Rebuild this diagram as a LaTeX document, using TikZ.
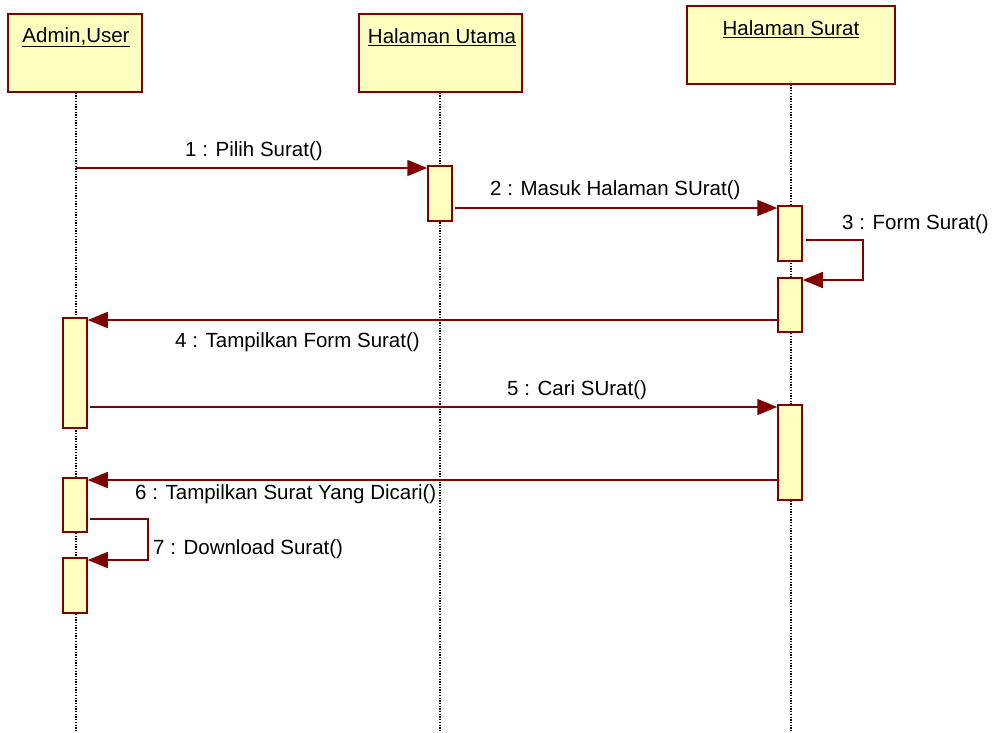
\documentclass[tikz,border=0pt]{standalone}
\usepackage{fontspec}
\setmainfont{Liberation Sans}
\usetikzlibrary{arrows.meta}
\definecolor{bord}{RGB}{128,0,0}
\definecolor{boxfill}{RGB}{255,255,192}
\begin{document}
\begin{tikzpicture}[x=1pt,y=-1pt,
  every node/.style={font=\fontsize{20.5}{24}\selectfont},
  objbox/.style 2 args={draw=bord,fill=boxfill,line width=1.5pt,minimum width=#1,minimum height=#2,inner sep=0pt},
  act/.style={draw=bord,fill=boxfill,line width=1.5pt,minimum width=24pt,minimum height=#1,inner sep=0pt},
  lifeline/.style={draw=black,line width=1.3pt,dash pattern=on 1.3pt off 1.4pt},
  msg/.style={draw=bord,line width=1.5pt,-{Triangle[length=20pt,width=16pt]},color=bord},
  title/.style={inner sep=0pt},
  lbl/.style={inner sep=0pt,anchor=west}]
\useasboundingbox (0,0) rectangle (1000,732);
% objects
\node[objbox={134pt}{78pt}] (admin) at (75,53) {};
\node[objbox={163pt}{78pt}] (utama) at (440.5,53) {};
\node[objbox={208pt}{78pt}] (surat) at (791,45) {};
\node[title] (tadmin) at (76,37) {\underline{Admin,User}};
\node[title] (tutama) at (442,37) {\underline{Halaman Utama}};
\node[title] (tsurat) at (791,29) {\underline{Halaman Surat}};
% lifeline ends
\coordinate (ladmin) at (76,732);
\coordinate (lutama) at (440,732);
\coordinate (lsurat) at (791,732);
\draw[lifeline] (admin.south -| ladmin) -- (ladmin);
\draw[lifeline] (utama.south -| lutama) -- (lutama);
\draw[lifeline] (surat.south -| lsurat) -- (lsurat);
% activations
\node[act=55pt] (hu1) at (440,193.5) {};
\node[act=55pt] (hs1) at (790,233.5) {};
\node[act=54pt] (hs2) at (790,305) {};
\node[act=95pt] (hs3) at (790,452.5) {};
\node[act=110pt] (au1) at (75,373) {};
\node[act=54pt] (au2) at (75,505) {};
\node[act=55pt] (au3) at (75,585.5) {};
% message anchors
\coordinate (m1s) at (76,168);
\coordinate (m2s) at (455,208);
\coordinate (m3s) at (806,240);
\coordinate (m3a) at (863,240);
\coordinate (m3b) at (863,280);
\coordinate (m4s) at (778,320);
\coordinate (m5s) at (90,407);
\coordinate (m6s) at (778,480);
\coordinate (m7s) at (90,519);
\coordinate (m7a) at (148,519);
\coordinate (m7b) at (148,560);
% messages
\draw[msg] (m1s) -- (hu1.west |- m1s);
\draw[msg] (m2s) -- (hs1.west |- m2s);
\draw[msg] (m3s) -- (m3a) -- (m3b) -- (hs2.east |- m3b);
\draw[msg] (m4s) -- (au1.east |- m4s);
\draw[msg] (m5s) -- (hs3.west |- m5s);
\draw[msg] (m6s) -- (au2.east |- m6s);
\draw[msg] (m7s) -- (m7a) -- (m7b) -- (au3.east |- m7b);
% labels
\node[lbl] (l1) at (185,151) {1 : Pilih Surat()};
\node[lbl] (l2) at (490,190) {2 : Masuk Halaman SUrat()};
\node[lbl] (l3) at (842,224) {3 : Form Surat()};
\node[lbl] (l4) at (175,342) {4 : Tampilkan Form Surat()};
\node[lbl] (l5) at (507,390) {5 : Cari SUrat()};
\node[lbl] (l6) at (135,494) {6 : Tampilkan Surat Yang Dicari()};
\node[lbl] (l7) at (153,549) {7 : Download Surat()};
\end{tikzpicture}
\end{document}
